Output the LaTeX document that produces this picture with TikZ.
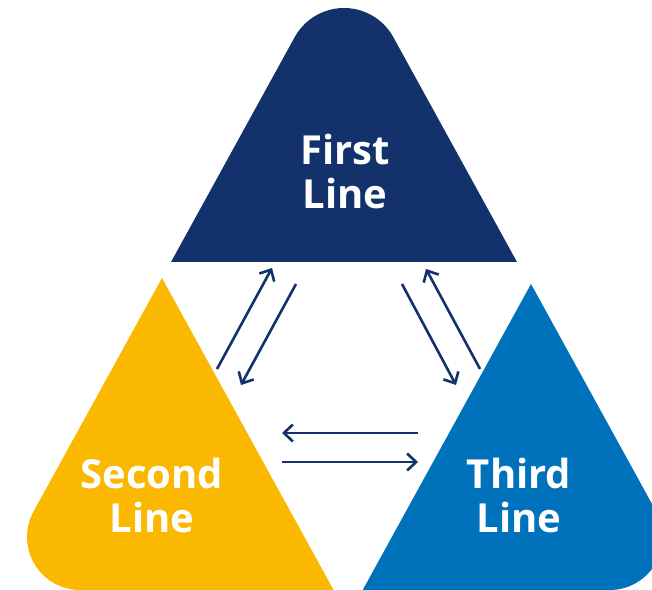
\documentclass[tikz,border=0pt]{standalone}
\usepackage{fontspec}
\setmainfont{Open Sans}
\usetikzlibrary{arrows.meta}
\definecolor{navy}{RGB}{19,50,108}
\definecolor{gold}{RGB}{251,184,0}
\definecolor{ocean}{RGB}{0,114,188}
\tikzstyle{arrow} = [draw=navy, line width=2.6pt, -{Straight Barb[length=9pt,width=17pt]}]

\begin{document}
\begin{tikzpicture}[
    x=1pt, y=1pt,
    every node/.style={font=\fontsize{40}{44}\selectfont\bfseries},
    lbl/.style={text=white, align=center}
]
    \useasboundingbox (0,0) rectangle (652,589);
    \clip (0,0) rectangle (652,589);

    % Top triangle, round apex
    \fill[navy] (171,327) -- ([shift={(151.19:56.3)}]344,524.7)
        arc[start angle=151.19, end angle=28.81, radius=56.3pt] -- (517,327) -- cycle;

    % Bottom left triangle, round left corner
    \fill[gold] (162,311) -- ([shift={(151.19:53)}]80,52)
        arc[start angle=151.19, end angle=270, radius=53pt] -- (333.6,-1) -- cycle;

    % Bottom right triangle, round right corner
    \fill[ocean] (531,305) -- ([shift={(28.81:53)}]609.7,52)
        arc[start angle=28.81, end angle=-90, radius=53pt] -- (362.7,-1) -- cycle;

    % Labels
    \node[lbl] (first) at (345,417.5) {First\\Line};
    \node[lbl] (second) at (152,93.5) {Second\\Line};
    \node[lbl] (third) at (519,93.5) {Third\\Line};

    % Arrow ends
    \coordinate (l1) at (217,220);
    \coordinate (l2) at (272,321);
    \coordinate (l3) at (296,305);
    \coordinate (l4) at (241,204);
    \coordinate (r1) at (480,220);
    \coordinate (r2) at (426,320);
    \coordinate (r3) at (402,305);
    \coordinate (r4) at (456,204);
    \coordinate (m1) at (418,156);
    \coordinate (m2) at (282,156);
    \coordinate (m3) at (282,127);
    \coordinate (m4) at (418,127);

    % Two-way arrows between the lines
    \foreach \i/\j in {l1/l2, l3/l4, r1/r2, r3/r4, m1/m2, m3/m4} {
        \draw[arrow] (\i) -- (\j);
    }

\end{tikzpicture}
\end{document}
